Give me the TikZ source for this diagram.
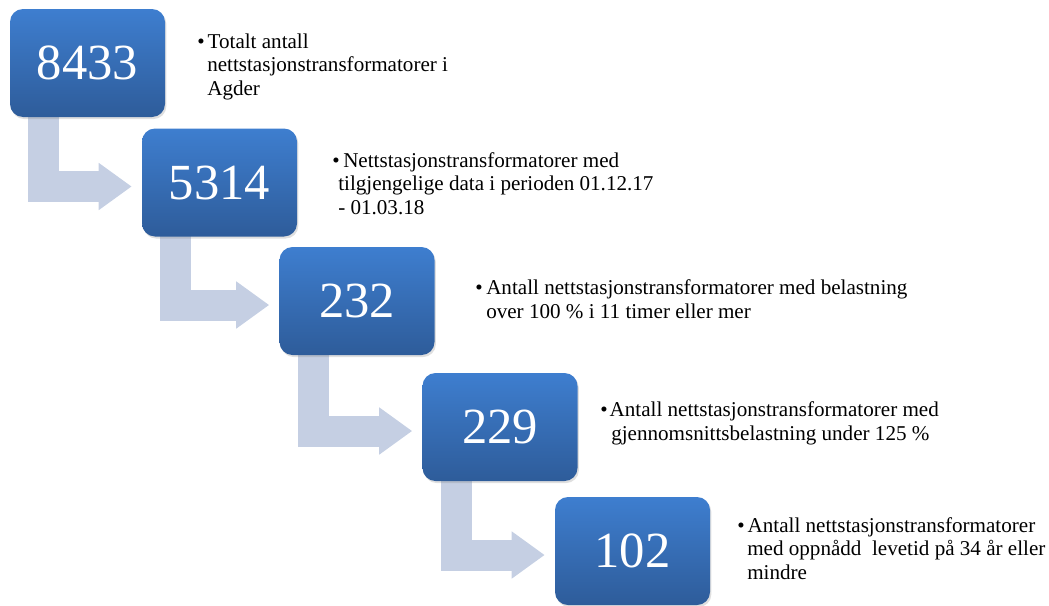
\documentclass[tikz,border=0pt]{standalone}
\usepackage{fontspec}
\setmainfont{Liberation Serif}
\usetikzlibrary{arrows.meta, positioning, calc, shadows, backgrounds}
\usepackage{xcolor}

\newlength\pxu
\setlength\pxu{0.025cm}

\definecolor{boxtop}{HTML}{3E7ECF}
\definecolor{boxbot}{HTML}{2E5C9A}
\definecolor{arrowfill}{HTML}{C5CFE3}

\begin{document}
\begin{tikzpicture}[x=0.025cm, y=-0.025cm,
    numbox/.style={rounded corners=13\pxu, minimum width=155\pxu, minimum height=108\pxu,
        inner sep=0pt, top color=boxtop, bottom color=boxbot, text=white,
        font=\fontsize{36}{40}\selectfont,
        drop shadow={opacity=0.25, shadow xshift=1pt, shadow yshift=-1.5pt}},
    bentarrow/.style={draw=arrowfill, line width=31\pxu,
        -{Triangle[length=0.825cm, width=1.125cm]}},
    infotext/.style={anchor=base west, inner sep=0pt, align=left,
        font=\fontsize{15}{16.4}\selectfont}]
        \useasboundingbox (0,0) rectangle (1049,605);

        % Number boxes
        \node[numbox] (n1) at (87.5,63) {8433};
        \node[numbox] (n2) at (219.5,182.5) {5314};
        \node[numbox] (n3) at (357,301) {232};
        \node[numbox] (n4) at (500,427) {229};
        \node[numbox] (n5) at (632.5,551) {102};

        % Bent arrows behind the boxes
        \begin{scope}[on background layer]
            \foreach \a/\b in {n1/n2, n2/n3, n3/n4, n4/n5}
                \draw[bentarrow] ($(\a.south west)+(34,-2)$) |- ($(\b.west)+(-10,4)$);
        \end{scope}

        % Descriptions (placed at the baseline of their last line)
        \node[infotext] (t1) at (197,95)
            {\textbullet\hspace{3\pxu}Totalt antall\\
             \hspace*{10\pxu}nettstasjonstransformatorer i\\
             \hspace*{10\pxu}Agder};
        \node[infotext] (t2) at (332,214)
            {\textbullet\hspace{3.6\pxu}Nettstasjonstransformatorer med\\
             \hspace*{6\pxu}tilgjengelige data i perioden 01.12.17\\
             \hspace*{6\pxu}- 01.03.18};
        \node[infotext] (t3) at (475,318)
            {\textbullet\hspace{3.6\pxu}Antall nettstasjonstransformatorer med belastning\\
             \hspace*{11\pxu}over 100 \% i 11 timer eller mer};
        \node[infotext] (t4) at (600,440)
            {\textbullet\hspace{2\pxu}Antall nettstasjonstransformatorer med\\
             \hspace*{11\pxu}gjennomsnittsbelastning under 125 \%};
        \node[infotext] (t5) at (737,579)
            {\textbullet\hspace{3\pxu}Antall nettstasjonstransformatorer\\
             \hspace*{10\pxu}med oppnådd\ \ levetid på 34 år eller\\
             \hspace*{10\pxu}mindre};
\end{tikzpicture}
\end{document}
